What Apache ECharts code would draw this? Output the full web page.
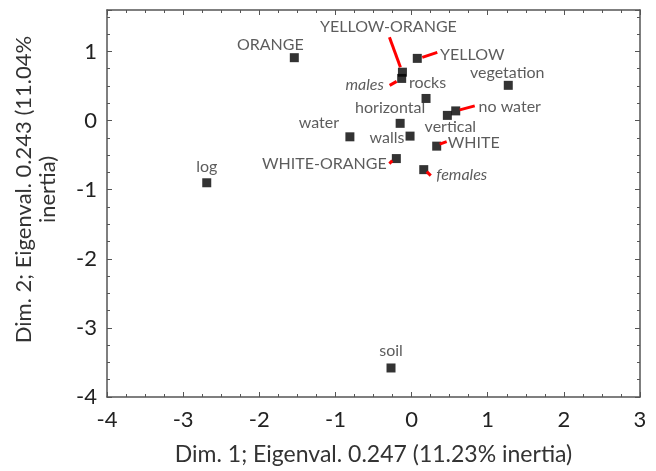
<!DOCTYPE html>
<html><head><meta charset="utf-8">
<script src="https://cdn.jsdelivr.net/npm/echarts@6/dist/echarts.min.js"></script>
<style>html,body{margin:0;padding:0;background:#fff}#c{width:656px;height:471px}</style>
</head><body><div id="c"></div>
<script>
var names = ['ORANGE','YELLOW-ORANGE','YELLOW','males','vegetation','rocks','no water','vertical','horizontal','water','walls','WHITE','WHITE-ORANGE','females','log','soil'];
var dim1 = [-1.54,-0.12,0.075,-0.13,1.27,0.19,0.58,0.47,-0.15,-0.81,-0.02,0.33,-0.20,0.16,-2.69,-0.27];
var dim2 = [0.91,0.70,0.90,0.61,0.51,0.32,0.14,0.075,-0.04,-0.235,-0.225,-0.37,-0.55,-0.71,-0.90,-3.58];
var xTicks = [-4,-3,-2,-1,0,1,2,3];
var yTicks = [-4,-3,-2,-1,0,1];
var xTitle = 'Dim. 1; Eigenval. 0.247 (11.23% inertia)';
var yTitle = 'Dim. 2; Eigenval. 0.243 (11.04%\ninertia)';

// label offsets (label centre relative to point, px) -- styling only
var labelDx = [-24,-14,55,-37,-1,1.5,54,3,-10,-31,-23,37,-72,38,0,0];
var labelDy = [-13,-45,-4,6,-12,-16,-4,11,-15.5,-14,2,-3,5,5,-16,-17];
// leader line segments relative to the point [x1,y1,x2,y2] px -- styling only
var leaders = {
  'YELLOW-ORANGE':[-2,-5,-13,-35],
  'YELLOW':[5,-1,20,-6],
  'males':[-12,7,-5,3],
  'no water':[4,-1,19,-5],
  'WHITE':[3,-2,10,-4.5],
  'WHITE-ORANGE':[-7,5,-4,2],
  'females':[3,2,7,6]
};
var italic = {'males':true,'females':true};

var FONT = 'Lato';
var axisCol = '#555';
var data = names.map(function(n,i){
  return {value:[dim1[i],dim2[i]], name:n,
    label:{fontStyle: italic[n]?'italic':'normal'}};
});
var chart = echarts.init(document.getElementById('c'));
var baseAxis = {
  axisLine:{show:true,onZero:false,lineStyle:{color:axisCol,width:1.5}},
  axisTick:{show:true,inside:true,length:5,lineStyle:{color:axisCol}},
  minorTick:{show:true,splitNumber:4,length:3,lineStyle:{color:axisCol}},
  splitLine:{show:false}
};
function ax(extra){return Object.assign({}, JSON.parse(JSON.stringify(baseAxis)), extra);}
chart.setOption({
  animation:false,
  grid:{left:107,right:16,top:10,bottom:74,containLabel:false},
  xAxis:[
    ax({type:'value',position:'bottom',min:xTicks[0],max:xTicks[xTicks.length-1],interval:1,
      axisLabel:{fontFamily:FONT,fontSize:22,color:'#222',margin:12},
      name:xTitle,nameLocation:'middle',nameGap:46,
      nameTextStyle:{fontFamily:FONT,fontSize:23,color:'#333'}}),
    ax({type:'value',position:'top',min:xTicks[0],max:xTicks[xTicks.length-1],interval:1,
      axisLabel:{show:false}})
  ],
  yAxis:[
    ax({type:'value',position:'left',min:yTicks[0],max:1.6,interval:1,
      axisLabel:{fontFamily:FONT,fontSize:22,color:'#222',margin:10,
        formatter:function(v){return yTicks.indexOf(v)>=0?String(v):'';}},
      name:yTitle,nameLocation:'middle',nameGap:47,
      nameTextStyle:{fontFamily:FONT,fontSize:22,color:'#333',lineHeight:24,padding:[0,0,0,28]}}),
    ax({type:'value',position:'right',min:yTicks[0],max:1.6,interval:1,
      axisLabel:{show:false}})
  ],
  series:[{
    type:'scatter',
    symbol:'rect',
    symbolSize:9,
    itemStyle:{color:'#000'},
    data:data,
    label:{show:true,position:'inside',formatter:'{b}',fontFamily:FONT,fontSize:16,color:'#333'},
    labelLayout:function(p){return {dx:labelDx[p.dataIndex],dy:labelDy[p.dataIndex]};}
  }]
});
var g = [];
names.forEach(function(n,i){
  var s = leaders[n]; if(!s) return;
  var p = chart.convertToPixel({xAxisIndex:0,yAxisIndex:0},[dim1[i],dim2[i]]);
  g.push({type:'line',silent:true,z:100,zlevel:1,
    shape:{x1:p[0]+s[0],y1:p[1]+s[1],x2:p[0]+s[2],y2:p[1]+s[3]},
    style:{stroke:'red',lineWidth:3}});
});
chart.setOption({graphic:{elements:g}});
</script></body></html>
